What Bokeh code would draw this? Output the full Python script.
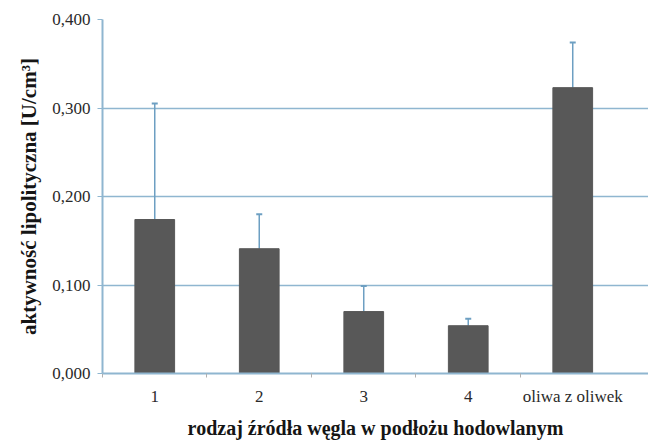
from bokeh.plotting import figure
from bokeh.models import ColumnDataSource, FixedTicker, CustomJSTickFormatter, Whisker, Range1d, TeeHead
from bokeh.embed import file_html
from bokeh.resources import INLINE

# carbon source categories and measured lipolytic activity
categories = ["1", "2", "3", "4", "oliwa z oliwek"]
activity = [0.174, 0.141, 0.070, 0.054, 0.323]
activity_sd = [0.131, 0.039, 0.029, 0.008, 0.051]
y_ticks = [0.0, 0.1, 0.2, 0.3, 0.4]

positions = list(range(1, len(categories) + 1))
src = ColumnDataSource(dict(
    x=positions,
    top=activity,
    upper=[a + s for a, s in zip(activity, activity_sd)],
))

BLUE = "#8fb6d0"
SERIF = "Liberation Serif"

p = figure(width=648, height=441, output_backend="svg", toolbar_location=None,
           x_range=Range1d(0.5, 5.725), y_range=Range1d(0, 0.4),
           min_border_left=102, min_border_right=0, min_border_top=19,
           min_border_bottom=66)
p.outline_line_color = None
p.background_fill_color = "white"
p.border_fill_color = "white"

p.vbar(x="x", top="top", width=0.38, source=src, fill_color="#585858",
       line_color="#585858")
# error bars: stem from the bar top, short cap at the upper end
p.add_layout(Whisker(base="x", upper="upper", lower="top", source=src,
                     line_color="#6d9fc2", line_width=1.5,
                     upper_head=None, lower_head=None))
p.add_layout(Whisker(base="x", upper="upper", lower="upper", source=src,
                     line_color="#6d9fc2", line_width=1,
                     upper_head=TeeHead(size=6, line_color="#6d9fc2", line_width=2),
                     lower_head=None))

# x axis: labels under the bars, ticks between categories
p.xaxis.ticker = FixedTicker(ticks=positions,
                             minor_ticks=[i + 0.5 for i in range(0, len(categories))])
p.xaxis.major_label_overrides = {i: c for i, c in zip(positions, categories)}
p.xaxis.major_tick_out = 0
p.xaxis.major_tick_in = 0
p.xaxis.minor_tick_out = 4
p.xaxis.minor_tick_in = 0
p.xaxis.minor_tick_line_color = "#b0b0b0"
p.xaxis.axis_line_color = BLUE
p.xaxis.axis_line_width = 2
p.xaxis.axis_label = "rodzaj źródła węgla w podłożu hodowlanym"
p.xaxis.major_label_standoff = 9

# y axis with comma decimals
p.yaxis.ticker = FixedTicker(ticks=y_ticks)
p.yaxis.formatter = CustomJSTickFormatter(code="return tick.toFixed(3).replace('.', ',');")
p.yaxis.major_tick_out = 5
p.yaxis.major_tick_in = 0
p.yaxis.major_tick_line_color = BLUE
p.yaxis.minor_tick_line_color = None
p.yaxis.axis_line_color = BLUE
p.yaxis.axis_line_width = 2
p.yaxis.axis_label = "aktywność lipolityczna [U/cm³]"
p.yaxis.major_label_standoff = 7

for ax in (p.xaxis[0], p.yaxis[0]):
    ax.major_label_text_font = SERIF
    ax.major_label_text_font_size = "17px"
    ax.major_label_text_color = "#2a2a2a"
    ax.axis_label_text_font = SERIF
    ax.axis_label_text_font_style = "bold"
    ax.axis_label_text_color = "#151515"

p.xaxis.axis_label_text_font_size = "20px"
p.yaxis.axis_label_text_font_size = "21px"
p.xaxis.axis_label_standoff = 8
p.yaxis.axis_label_standoff = 8

p.xgrid.grid_line_color = None
p.ygrid.ticker = FixedTicker(ticks=y_ticks)
p.ygrid.grid_line_color = BLUE
p.ygrid.grid_line_width = 1.5

open("out.html", "w").write(file_html(p, INLINE))
